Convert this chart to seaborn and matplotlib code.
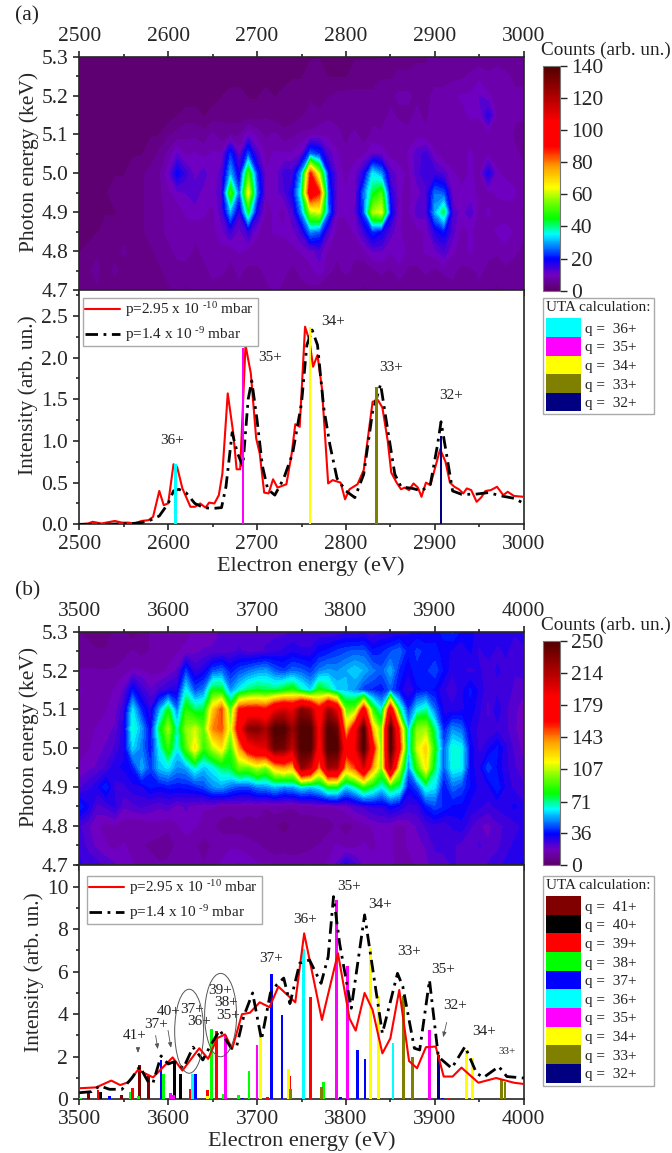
import matplotlib
matplotlib.use('Agg')
import matplotlib.pyplot as plt
import numpy as np
import seaborn as sns
from matplotlib.cm import ScalarMappable
from matplotlib.colors import LinearSegmentedColormap, Normalize
from matplotlib.patches import Ellipse, Patch
from matplotlib.ticker import MultipleLocator

# photon energy rows, 0.05 keV apart, electron energy columns 10 eV apart
photon_rows = [4.7, 4.75, 4.8, 4.85, 4.9, 4.95, 5.0, 5.05, 5.1, 5.15, 5.2, 5.25, 5.3]
electron_a = list(range(2500, 3001, 10))
electron_b = list(range(3500, 4001, 10))

counts_a = [
    [4,4,4,3,3,4,4,3,3,4,4,5,4,5,5,6,5,5,6,6,5,6,7,6,5,6,6,5,5,6,5,5,4,5,5,6,5,5,6,5,6,5,6,5,5,6,5,4,5,5,6],
    [3,4,5,3,5,3,3,4,3,4,5,6,5,6,6,7,7,6,7,6,6,7,8,7,6,7,8,10,7,6,7,6,5,6,7,6,8,6,6,7,6,7,7,6,6,7,6,5,6,5,5],
    [2,3,4,4,3,5,3,4,4,5,6,7,8,6,7,7,8,7,9,8,8,8,7,8,8,9,10,12,8,7,8,7,8,11,11,9,10,8,8,9,10,13,9,8,9,8,7,7,8,7,6],
    [1,1,2,3,3,3,3,4,5,6,7,8,8,7,8,8,10,14,10,15,9,8,9,9,10,14,28,25,12,8,8,9,14,22,18,12,9,7,8,9,16,20,12,8,9,8,8,9,10,8,7],
    [1,1,2,2,2,3,4,4,5,6,7,7,9,10,9,8,12,30,14,42,16,8,9,8,13,28,58,62,26,9,9,11,24,58,62,20,9,8,12,12,30,42,12,10,12,8,9,8,7,8,6],
    [1,1,1,2,3,3,4,4,5,6,8,10,11,12,10,10,12,50,24,64,26,9,10,12,18,38,100,88,24,10,9,10,26,42,50,16,9,8,10,12,26,24,10,9,10,8,8,9,10,9,7],
    [1,2,2,1,2,2,3,4,5,6,10,19,14,10,12,9,12,30,16,50,22,9,9,14,14,30,88,58,20,10,8,10,16,34,28,12,10,8,12,15,14,12,9,8,9,8,17,9,8,8,7],
    [1,1,1,1,1,2,2,2,3,5,7,11,8,9,8,9,9,22,10,24,12,8,9,9,9,11,26,22,12,9,7,8,8,11,10,8,7,9,12,14,9,7,7,8,9,8,8,8,7,7,6],
    [1,1,1,1,1,1,1,2,2,2,4,5,6,6,5,7,5,6,6,10,8,6,7,5,6,7,7,8,8,7,6,7,5,7,7,7,8,7,8,7,7,7,8,8,8,7,7,8,8,6,5],
    [1,1,1,1,1,1,1,1,1,1,1,2,3,3,2,3,4,3,3,3,3,4,3,3,3,4,5,5,6,6,5,5,6,6,5,7,6,6,7,6,8,8,7,8,9,9,16,8,8,7,7],
    [1,1,1,1,1,1,1,1,1,1,1,1,1,1,1,1,2,3,3,2,2,3,2,3,3,3,4,3,4,5,5,5,5,5,6,6,7,7,6,6,7,7,8,9,9,11,9,8,8,7,7],
    [1,1,1,1,1,1,1,1,1,1,1,1,1,1,1,1,1,1,1,1,1,1,1,1,2,2,3,4,2,2,2,3,3,3,4,4,5,5,5,5,6,6,6,6,7,8,7,8,7,6,6],
    [1,1,1,1,1,1,1,1,1,1,1,1,1,1,1,1,1,1,1,1,1,1,1,1,1,1,2,2,2,2,1,2,2,2,2,2,3,3,4,4,5,5,4,5,5,5,5,5,5,5,5],
]

counts_b = [
    [28,26,25,22,20,18,16,14,13,12,12,12,13,14,12,14,16,18,20,18,16,16,15,14,14,15,16,14,16,20,30,24,18,18,16,16,15,14,16,18,22,20,24,22,22,20,24,26,28,30,32],
    [26,22,18,16,14,16,13,12,11,10,11,12,13,12,10,12,14,15,14,13,12,10,8,10,9,9,10,12,14,16,13,14,16,14,18,16,14,16,18,20,24,26,24,22,20,24,20,22,26,28,30],
    [24,20,16,14,15,13,12,12,14,14,12,15,18,16,14,12,10,9,10,9,10,8,8,6,8,10,8,8,10,12,10,12,14,16,18,16,14,16,20,24,26,24,28,30,24,20,18,22,24,26,28],
    [38,32,22,24,28,20,22,24,22,20,22,18,20,18,16,16,14,14,15,14,14,12,14,13,12,13,14,16,14,16,18,22,24,28,28,34,30,26,26,36,42,38,34,34,30,28,26,28,30,32,28],
    [22,26,30,38,26,26,30,30,36,34,36,36,36,38,42,50,52,46,42,42,48,50,55,50,52,60,56,62,80,80,56,66,84,74,60,78,70,34,42,66,60,34,46,42,34,30,30,38,30,26,24],
    [16,18,20,24,30,32,36,54,40,56,60,50,52,66,56,62,72,76,96,92,106,96,125,135,125,225,205,135,220,215,130,150,200,135,98,215,110,48,86,118,72,44,64,62,32,30,42,34,28,24,20],
    [14,15,18,20,24,30,58,48,34,62,86,60,90,120,85,105,120,85,135,175,190,195,240,235,205,250,250,175,250,250,170,190,250,170,92,250,165,58,108,125,80,44,66,62,34,26,30,36,28,22,18],
    [14,14,16,18,20,30,66,52,32,74,102,64,100,108,92,140,148,105,178,228,232,215,250,250,220,250,250,180,250,240,125,175,250,128,92,250,150,56,100,102,70,36,50,46,30,26,24,26,24,20,16],
    [14,12,14,15,18,26,60,38,28,52,78,46,85,72,75,125,150,90,160,165,165,160,190,200,190,230,215,165,220,190,92,96,170,85,60,180,72,38,60,68,46,30,28,30,34,28,22,30,24,20,18],
    [16,14,12,14,16,20,36,26,20,24,28,30,62,42,48,80,78,50,62,72,76,74,72,78,84,68,58,82,72,58,56,50,40,38,36,44,34,26,34,36,34,28,24,30,36,30,24,26,26,22,20],
    [12,12,12,12,12,14,16,16,14,14,16,20,40,26,30,42,46,36,42,46,50,52,44,40,46,44,40,48,52,50,54,58,54,48,44,54,38,32,38,38,42,34,28,28,26,28,24,28,26,24,26],
    [8,10,8,8,9,10,12,10,12,12,14,15,17,18,20,20,20,22,24,22,22,24,26,28,30,28,28,34,36,40,42,44,44,36,38,42,46,36,40,38,36,34,30,28,32,26,30,26,28,24,26],
    [8,6,6,7,8,8,5,8,12,14,16,15,14,16,17,18,20,20,22,20,20,22,22,22,24,24,24,24,24,24,26,24,26,24,26,26,28,30,32,30,34,36,40,34,32,30,28,30,30,28,30],
]

# intensity curves, panel (a)
red_a_x = [2500,2510,2515,2525,2535,2540,2548,2555,2562,2570,2578,2583,2590,2595,2600,2606,2610,2616,2625,2630,2636,2642,2646,2652,2657,2661,2667,2673,2677,2681,2687,2693,2699,2703,2708,2713,2718,2723,2733,2739,2743,2748,2754,2759,2763,2768,2773,2780,2785,2794,2799,2804,2813,2820,2830,2836,2841,2847,2851,2857,2862,2866,2871,2876,2881,2885,2890,2895,2906,2912,2917,2922,2927,2932,2936,2941,2947,2952,2957,2963,2970,2977,2982,2989,3000]
red_a_y = [0,0.01,0.03,0.01,0.03,0.04,0.02,0.02,0.01,0.04,0.05,0.09,0.40,0.23,0.25,0.72,0.69,0.43,0.21,0.21,0.25,0.20,0.26,0.25,0.35,0.61,1.57,1.11,0.66,0.66,2.15,1.81,1.03,0.85,0.38,0.37,0.54,0.44,0.48,0.85,1.20,1.17,2.37,2.20,1.89,2.03,1.63,0.49,0.53,0.50,0.30,0.42,0.48,0.65,1.47,1.49,1.40,1.00,0.62,0.50,0.42,0.44,0.41,0.49,0.44,0.33,0.50,0.47,0.90,0.75,0.50,0.45,0.42,0.37,0.43,0.41,0.27,0.32,0.40,0.41,0.45,0.35,0.39,0.34,0.33]
black_a_x = [2500,2530,2560,2570,2580,2590,2600,2606,2612,2620,2630,2640,2650,2660,2665,2672,2678,2684,2690,2694,2700,2706,2712,2720,2730,2740,2750,2756,2762,2768,2775,2782,2790,2800,2810,2820,2830,2839,2846,2855,2862,2875,2885,2895,2903,2907,2913,2920,2930,2945,2960,2975,2990,3000]
black_a_y = [0,0,0.01,0.02,0.05,0.10,0.25,0.40,0.42,0.38,0.25,0.20,0.19,0.20,0.45,1.10,0.85,0.70,1.50,1.72,1.25,0.70,0.42,0.35,0.55,0.85,1.45,2.15,2.33,2.15,1.40,0.95,0.55,0.40,0.32,0.60,1.35,1.68,1.20,0.60,0.45,0.43,0.40,0.48,0.95,1.23,0.85,0.40,0.36,0.36,0.38,0.34,0.31,0.25]

# intensity curves, panel (b)
red_b_x = [3500,3519,3536,3546,3555,3566,3583,3605,3616,3635,3645,3655,3664,3672,3683,3692,3703,3714,3724,3743,3753,3773,3791,3804,3811,3821,3830,3841,3850,3860,3871,3880,3890,3901,3910,3920,3930,3949,3969,3989,4000]
red_b_y = [0.52,0.56,0.88,0.67,0.80,1.38,1.03,1.97,1.35,2.40,1.90,2.87,3.05,2.37,4.00,4.07,4.56,4.33,5.30,4.56,7.80,3.73,6.87,3.80,3.23,5.00,4.20,2.16,2.87,5.14,1.80,1.46,2.45,2.48,1.07,1.07,1.49,0.78,1.00,0.78,0.72]
black_b_x = [3500,3514,3523,3534,3548,3559,3568,3578,3583,3592,3600,3607,3617,3628,3639,3647,3658,3671,3677,3685,3695,3705,3715,3722,3730,3737,3748,3759,3772,3780,3786,3793,3806,3821,3841,3858,3864,3877,3883,3894,3904,3919,3934,3947,3955,3972,3981,4000]
black_b_y = [0.31,0.36,0.63,0.47,0.47,0.99,1.54,0.78,0.78,2.04,1.66,1.77,1.46,2.45,1.85,2.48,3.26,2.40,2.48,3.90,5.00,2.80,5.00,5.38,5.70,4.50,6.40,6.55,5.45,6.70,9.53,7.30,4.28,8.67,3.10,5.92,5.30,2.40,2.32,5.60,2.00,1.46,2.48,1.22,1.03,1.54,1.07,1.00]

# UTA sticks: charge state, colour, positions and heights
uta_a = [
    ('36+', '#00ffff', [2608], [0.72]),
    ('35+', '#ff00ff', [2684.5], [2.12]),
    ('34+', '#ffff00', [2760], [2.37]),
    ('33+', '#808000', [2834], [1.65]),
    ('32+', '#000080', [2907], [1.06]),
]
uta_b = [
    ('41+', '#800000', [3510,3547.5,3567.5,3577.5], [0.28,0.20,1.60,1.10]),
    ('40+', '#000000', [3524,3607.5,3614], [0.35,1.75,1.20]),
    ('39+', '#ff0000', [3521,3559.5,3625,3644,3654,3711.6,3737,3760,3915], [0.42,0.55,0.47,0.45,3.20,0.10,1.10,4.80,0.05]),
    ('38+', '#00ff00', [3501,3557,3567,3595,3649,3662.5,3679,3691,3775], [0.05,0.35,0.15,1.20,3.30,0.25,0.20,1.35,0.82]),
    ('37+', '#0000ff', [3534,3592,3631,3683.5,3716,3728,3794,3813,3821.5,3909], [0.15,1.85,1.20,0.05,5.90,3.98,0.12,2.33,1.90,0.05]),
    ('36+', '#00ffff', [3627,3752,3853], [1.20,7.05,2.63]),
    ('35+', '#ff00ff', [3602.6,3606,3664.5,3700,3789,3802,3894], [0.28,0.18,3.00,2.55,9.37,6.29,3.26]),
    ('34+', '#ffff00', [3644,3704,3735,3827.5,3837,3936,3942], [0.15,2.90,1.43,7.10,4.86,2.30,1.94]),
    ('33+', '#808000', [3738,3772.7,3865,3875,3975,3979], [0.50,0.60,4.86,2.00,0.90,0.80]),
    ('32+', '#000080', [3904], [2.08]),
]

# peak labels as (energy, intensity, text, size)
labels_a = [(2604,1.00,'36+',11), (2715,2.00,'35+',11), (2786,2.43,'34+',11), (2851,1.885,'33+',11), (2918,1.54,'32+',11)]
labels_b = [(3562.5,2.98,'41+',11), (3586,3.53,'37+',11), (3600,4.12,'40+',11), (3627,4.23,'37+',11),
            (3634.5,3.65,'36+',11), (3658,5.10,'39+',11), (3665,4.56,'38+',11), (3667,3.93,'35+',11),
            (3716,6.63,'37+',11), (3753.5,8.46,'36+',11), (3803,10.0,'35+',11), (3838,9.14,'34+',11),
            (3871,6.94,'33+',11), (3909,6.11,'35+',11), (3923,4.39,'32+',11), (3955,3.20,'34+',11), (3981,2.24,'33+',8)]
arrows_b = [((3566,2.55),(3566,2.05)), ((3585.4,3.13),(3588.8,2.23)), ((3599.3,3.37),(3603.7,2.29)), ((3914,3.74),(3908.7,2.79))]

cbar_ticks_a = [0, 20, 40, 60, 80, 100, 120, 140]
cbar_ticks_b = [0, 36, 71, 107, 143, 179, 214, 250]

sns.set_style('ticks')
plt.rcParams['font.family'] = ['Liberation Serif', 'DejaVu Serif']
plt.rcParams['mathtext.fontset'] = 'custom'
plt.rcParams['mathtext.rm'] = 'Liberation Serif'
plt.rcParams['mathtext.default'] = 'regular'
plt.rcParams['axes.linewidth'] = 1.2
plt.rcParams['text.color'] = '#222222'

origin_map = LinearSegmentedColormap.from_list('origin', [
    (0.00, '#5c0068'), (0.07, '#7000c0'), (0.14, '#0000ff'), (0.21, '#00a0ff'), (0.25, '#00ffff'),
    (0.32, '#00ff00'), (0.39, '#70ff00'), (0.46, '#ffff00'), (0.55, '#ffa000'), (0.64, '#ff0000'),
    (0.75, '#ff0000'), (0.86, '#b00000'), (1.00, '#500000'),
])

W, H = 672, 1153
fig = plt.figure(figsize=(W / 100, H / 100), dpi=100)


def px_axes(left, top, right, bottom):
    return fig.add_axes([left / W, 1 - bottom / H, (right - left) / W, (bottom - top) / H])


def tick_style(ax, labelsize=15.5):
    ax.tick_params(which='major', length=4.5, width=1.2, labelsize=labelsize, pad=3.5)
    ax.tick_params(which='minor', length=2.5, width=1.2)


def draw_heat(top, bottom, xs, grid, ticks):
    ax = px_axes(79.3, top, 523.7, bottom)
    vmax = ticks[-1]
    ax.contourf(xs, photon_rows, np.array(grid), levels=np.linspace(0, vmax, 65), cmap=origin_map, extend='both')
    ax.set_xlim(xs[0], xs[-1])
    ax.set_ylim(4.7, 5.3)
    ax.xaxis.set_major_locator(MultipleLocator(100))
    ax.xaxis.set_minor_locator(MultipleLocator(50))
    ax.yaxis.set_major_locator(MultipleLocator(0.1))
    ax.yaxis.set_minor_locator(MultipleLocator(0.05))
    ax.tick_params(axis='x', which='both', top=True, bottom=True, labeltop=True, labelbottom=False)
    tick_style(ax)
    ax.set_ylabel('Photon energy (keV)', fontsize=15.5, labelpad=2, y=0.55)

    cax = px_axes(543.4, top + 9, 560, bottom + 0.7)
    cb = fig.colorbar(ScalarMappable(Normalize(0, vmax), origin_map), cax=cax, ticks=ticks)
    cb.outline.set_linewidth(0.8)
    cb.outline.set_edgecolor('#777777')
    cb.ax.tick_params(length=5, width=1, labelsize=15.5, pad=3)
    fig.text(541 / W, 1 - (top - 6.5) / H, 'Counts (arb. un.)', fontsize=13.8, va='center', ha='left')
    return ax


def draw_lines(top, bottom, xs, red, black, uta, labels, ymax, ymajor, legend_box, uta_top, stick_front, stick_w, xlab, ylab):
    ax = px_axes(79.3, top, 523.7, bottom)
    sns.lineplot(x=red[0], y=red[1], color='#ff0000', lw=1.5, ax=ax, sort=False, errorbar=None,
                 label=r'p=2.95 x 10 $^{\text{-10}}$ mbar', zorder=4)
    sns.lineplot(x=black[0], y=black[1], color='black', lw=2.0, ax=ax, sort=False, errorbar=None,
                 linestyle=(0, (4.5, 2, 1, 2)), label=r'p=1.4 x 10 $^{\text{-9}}$ mbar', zorder=4)
    for name, colour, pos, height in uta:
        ax.bar(pos, height, width=stick_w.get(name, stick_w['default']), color=colour, linewidth=0,
               zorder=5 if stick_front else 3)
    for x, y, text, size in labels:
        ax.text(x, y, text, fontsize=size, ha='center', va='center', zorder=6)
    ax.set_xlim(xs[0], xs[-1])
    ax.set_ylim(0, ymax)
    ax.xaxis.set_major_locator(MultipleLocator(100))
    ax.xaxis.set_minor_locator(MultipleLocator(50))
    ax.yaxis.set_major_locator(MultipleLocator(ymajor))
    ax.yaxis.set_minor_locator(MultipleLocator(ymajor / 2))
    tick_style(ax)
    ax.set_xlabel('Electron energy (eV)', fontsize=16, labelpad=1.5, x=xlab)
    ax.set_ylabel('Intensity (arb. un.)', fontsize=15.5, labelpad=2, y=ylab)
    sns.despine(ax=ax, top=False, right=False)

    x0, y0, x1, y1 = legend_box
    bbox = (x0 / W, 1 - y1 / H, (x1 - x0) / W, (y1 - y0) / H)
    ax.legend(loc='upper left', bbox_to_anchor=bbox, bbox_transform=fig.transFigure, mode='expand',
              fontsize=11, frameon=True, fancybox=False, framealpha=1, edgecolor='#aaaaaa',
              handlelength=2.3, handletextpad=0.3, borderpad=0.15, labelspacing=0.4, borderaxespad=0)

    handles = [Patch(facecolor=colour, linewidth=0, label='q =  ' + name) for name, colour, _, _ in uta]
    leg = fig.legend(handles=handles, title='UTA calculation:', loc='upper left',
                     bbox_to_anchor=(543 / W, 1 - uta_top / H), fontsize=11, title_fontsize=11,
                     alignment='left', frameon=True, fancybox=False, framealpha=1, edgecolor='#aaaaaa',
                     handlelength=2.3, handleheight=1.5, handletextpad=0.25, labelspacing=0,
                     borderpad=0.2, borderaxespad=0)
    leg._legend_box.sep = 3
    return ax


draw_heat(56.7, 290, electron_a, counts_a, cbar_ticks_a)
draw_lines(290, 524.3, electron_a, (red_a_x, red_a_y), (black_a_x, black_a_y), uta_a, labels_a,
           2.81, 0.5, (83, 298, 258, 342), 298, True, {'default': 2.4, '33+': 3.6, '36+': 3.2}, 0.52, 0.55)

draw_heat(631.7, 864.7, electron_b, counts_b, cbar_ticks_b)
ax_b = draw_lines(864.7, 1099.3, electron_b, (red_b_x, red_b_y), (black_b_x, black_b_y), uta_b, labels_b,
                  11.03, 2, (87, 876, 262, 919), 876, False, {'default': 3.2}, 0.5, 0.54)

for start, end in arrows_b:
    ax_b.annotate('', xy=end, xytext=start, zorder=6,
                  arrowprops=dict(arrowstyle='-|>,head_width=0.12,head_length=0.3', color='#555555', lw=0.6))
ax_b.add_patch(Ellipse((3623.6, 3.2), 32.6, 3.95, angle=0, fill=False, edgecolor='#555555', lw=0.7, zorder=6))
ax_b.add_patch(Ellipse((3659, 3.96), 36, 3.92, angle=0, fill=False, edgecolor='#555555', lw=0.7, zorder=6))

fig.text(15 / W, 1 - 16 / H, '(a)', fontsize=15.5, va='center', ha='left')
fig.text(15 / W, 1 - 591 / H, '(b)', fontsize=15.5, va='center', ha='left')

fig.savefig('out.png', dpi=100)
